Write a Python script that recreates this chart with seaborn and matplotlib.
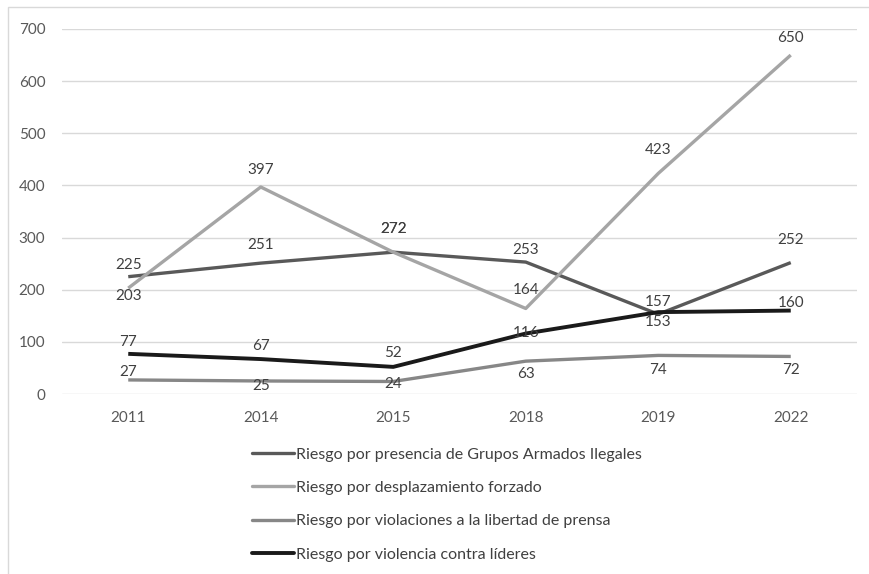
import pandas as pd
import matplotlib.pyplot as plt
import seaborn as sns
from matplotlib.patches import Rectangle

years = ["2011", "2014", "2015", "2018", "2019", "2022"]
grupos = [225, 251, 272, 253, 153, 252]
desplazamiento = [203, 397, 272, 164, 423, 650]
prensa = [27, 25, 24, 63, 74, 72]
lideres = [77, 67, 52, 116, 157, 160]

names = ["Riesgo por presencia de Grupos Armados Ilegales",
         "Riesgo por desplazamiento forzado",
         "Riesgo por violaciones a la libertad de prensa",
         "Riesgo por violencia contra líderes"]
colors = ["#595959", "#a5a5a5", "#878787", "#1a1a1a"]
widths = [2.4, 2.4, 2.4, 2.8]
# vertical label offsets (pixels) for each point
offsets = [[12, 18, 23, 12, -8, 23],
           [-8, 17, 23, 18, 23, 17],
           [8, -5, -3, -13, -15, -14],
           [12, 13, 14, 1, 10, 8]]

series = [grupos, desplazamiento, prensa, lideres]
rows = []
for name, vals in zip(names, series):
    for y, v in zip(years, vals):
        rows.append({"year": y, "value": v, "serie": name})
df = pd.DataFrame(rows)

sns.set_style("white")
plt.rcParams["font.family"] = ["Lato", "DejaVu Sans"]

fig = plt.figure(figsize=(8.7, 5.74), dpi=100)
ax = fig.add_axes([62 / 870, 1 - 394 / 574, 795 / 870, 365 / 574])

ax = sns.lineplot(data=df, x="year", y="value", hue="serie",
                  palette=dict(zip(names, colors)), ax=ax, legend=False)
for line, w in zip(ax.get_lines(), widths):
    line.set_linewidth(w)
    line.set_solid_capstyle("butt")

for vals, offs in zip(series, offsets):
    for i, (v, o) in enumerate(zip(vals, offs)):
        ax.annotate(str(v), (i, v), xytext=(0, o), textcoords="offset pixels",
                    ha="center", va="center", fontsize=11, color="#404040")

ax.set_xlim(-0.5, 5.5)
ax.set_ylim(0, 700)
ax.set_yticks(range(0, 701, 100))
ax.yaxis.grid(True, color="#d9d9d9", linewidth=1)
ax.set_xlabel("")
ax.set_ylabel("")
for s in ax.spines.values():
    s.set_visible(False)
ax.tick_params(axis="both", length=0, labelsize=11, labelcolor="#595959")
ax.tick_params(axis="y", pad=12)
ax.tick_params(axis="x", pad=12)

handles = [plt.Line2D([], [], color=c, linewidth=w) for c, w in zip(colors, widths)]
fig.legend(handles, names, loc="upper left", bbox_to_anchor=(238 / 870, 1 - 433 / 574),
           frameon=False, fontsize=11.5, handlelength=2.6, handletextpad=0.1,
           labelspacing=1.2, labelcolor="#404040")

fig.add_artist(Rectangle((8 / 870, -0.02), 1.0, 1 - 7 / 574 + 0.02,
                         transform=fig.transFigure, fill=False,
                         edgecolor="#d9d9d9", linewidth=1))

fig.savefig("out.png", dpi=100)
